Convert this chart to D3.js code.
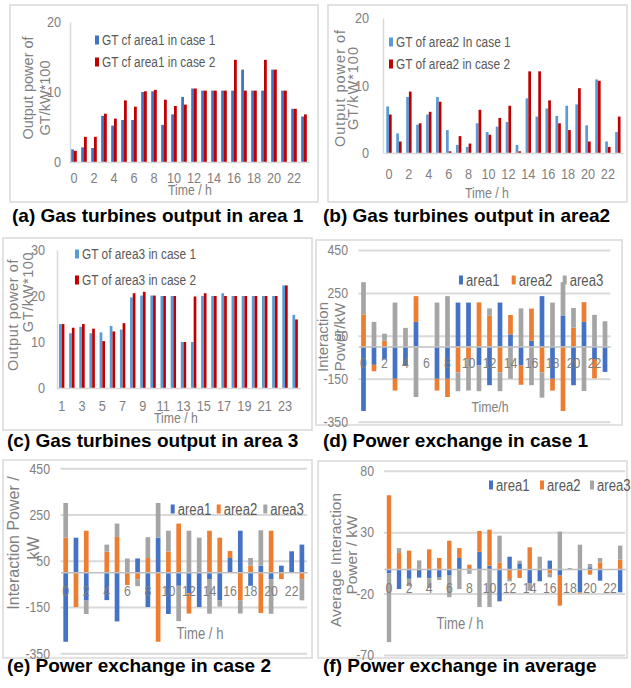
<!DOCTYPE html>
<html>
<head>
<meta charset="utf-8">
<script src="https://cdn.jsdelivr.net/npm/d3@7"></script>
<style>
body { margin: 0; background: #fff; }
svg { display: block; }
</style>
</head>
<body>
<div id="chart"></div>
<script>
// ---- data ----
var hours = [0, 1, 2, 3, 4, 5, 6, 7, 8, 9, 10, 11, 12, 13, 14, 15, 16, 17, 18, 19, 20, 21, 22, 23];
var hours1 = [1, 2, 3, 4, 5, 6, 7, 8, 9, 10, 11, 12, 13, 14, 15, 16, 17, 18, 19, 20, 21, 22, 23, 24];
var evenTicks = [0, 2, 4, 6, 8, 10, 12, 14, 16, 18, 20, 22];
var oddTicks = [1, 3, 5, 7, 9, 11, 13, 15, 17, 19, 21, 23];

// gas turbine output, kW*100
var gtArea1Case1 = [1.8, 2.1, 2.0, 6.6, 5.2, 6.0, 6.0, 10.0, 10.1, 5.3, 6.8, 9.3, 10.5, 10.2, 10.2, 10.2, 10.2, 13.2, 10.2, 10.2, 13.2, 10.2, 7.6, 6.5];
var gtArea1Case2 = [1.6, 3.6, 3.6, 6.9, 6.2, 8.8, 7.9, 10.1, 10.3, 8.9, 8.0, 8.2, 10.5, 10.2, 10.2, 10.2, 14.6, 10.2, 10.2, 14.6, 13.2, 10.2, 7.6, 6.8];
var gtArea2Case1 = [6.9, 2.9, 8.3, 4.2, 5.7, 8.3, 3.4, 1.2, 0.9, 4.4, 3.1, 3.9, 4.6, 1.2, 8.1, 5.4, 6.6, 5.5, 7.0, 7.2, 4.1, 10.9, 1.7, 3.1];
var gtArea2Case2 = [5.7, 1.7, 9.1, 4.4, 6.1, 7.6, 0.25, 2.5, 1.4, 6.4, 2.7, 5.2, 7.0, 0.25, 12.1, 12.1, 7.8, 4.4, 3.4, 9.6, 1.7, 10.7, 0.9, 5.4];
var gtArea3Case1 = [13.9, 11.9, 13.3, 11.9, 12.1, 13.5, 12.7, 19.7, 20.1, 20.1, 20, 20, 10, 10, 20, 20, 20.6, 20, 20, 20, 20, 20, 22.3, 15.9];
var gtArea3Case2 = [13.9, 13.1, 13.9, 12.9, 10.2, 12.3, 14.1, 20.6, 20.9, 20.1, 20, 20, 10, 19.9, 20.6, 20, 20, 20, 20, 20, 20, 20, 22.3, 14.9];

// power exchange, kW
var case1Area1 = [-300, -85, -60, -150, -87, 115, 0, -150, -150, 205, 205, -88, -180, 205, 57, -88, 27, 235, -150, 145, -180, 115, -58, -118];
var case1Area2 = [150, -30, 27, -55, 0, 120, 0, -55, -85, -120, -58, 206, 145, -120, 90, -90, 150, -120, -55, -300, 88, 92, -90, 0];
var case1Area3 = [150, 115, 33, 205, 87, -235, 0, 205, 235, -88, -147, -120, 33, -88, -150, 178, -180, -118, 205, 155, 92, -207, 148, 118];

var case2Area1 = [-300, 150, -122, 0, -120, -212, 0, 60, -150, 150, -180, -58, -90, -150, -29, -120, 62, 180, -58, 29, -29, 29, 91, 120];
var case2Area2 = [150, -150, 180, 0, 90, 153, -55, -30, 62, -300, 90, 211, -88, 0, 180, 150, 30, -120, 29, -176, 180, -29, 0, -29];
var case2Area3 = [150, 0, -58, 0, 30, 58, 60, -30, 90, 150, 90, -153, 180, 150, -150, -28, 0, -58, 33, 153, -150, 0, 0, -92];

var avgArea1 = [-3.5, -16.3, -8, -7, -7.5, -7, -5.4, 9, 0, 14, 2.7, -26.3, 10, 4.6, -11.4, -10, 6.8, -5.4, -0.4, -19, 1.4, -9.5, 0, -19];
var avgArea2 = [60, 13, 15, 0, 16, 9, 23, 8, 3.5, 17, 29.3, 5.4, -8.1, -7.3, 17.6, 0, -3.5, -24.4, -0.4, -0.8, -4.6, 5.4, 0, 7.6];
var avgArea3 = [-56, 4, -6, 7, -8, -2, -17.6, -16.3, -4, -31, -31, 21.7, -1.9, 2.2, -6.2, 10, -3.3, 30.4, 0.8, 19.8, 2.7, 3.5, 0, 11.4];

var areaKeys = ["area1", "area2", "area3"];

// ---- drawing ----
var SANS = '"Liberation Sans",Arial,sans-serif';
var SQUEEZE = 0.82;   // narrow look of the original labels
var GRID = "#d9d9d9";
var TXT = "#7f7f7f";

var svg = d3.select("#chart").append("svg")
    .attr("width", 631)
    .attr("height", 688);

svg.append("rect").attr("width", 631).attr("height", 688).attr("fill", "#fff");

// squeeze text horizontally around its own anchor
function narrow(sel) {
    sel.each(function() {
        var t = d3.select(this);
        var x = +t.attr("x") || 0;
        t.attr("x", x / SQUEEZE).attr("transform", "scale(" + SQUEEZE + ",1)");
    });
}

function frame(x, y, w, h) {
    svg.append("rect")
        .attr("x", x).attr("y", y).attr("width", w).attr("height", h)
        .attr("fill", "none")
        .attr("stroke", GRID)
        .attr("stroke-width", 1.5);
}

function caption(txt, x, y) {
    svg.append("text")
        .attr("x", x).attr("y", y)
        .attr("font-family", SANS)
        .attr("font-weight", "bold")
        .attr("font-size", 19)
        .attr("fill", "#000")
        .text(txt);
}

function yTitle(lines) {
    lines.forEach(function(l) {
        svg.append("text")
            .attr("transform", "translate(" + l.x + "," + l.y + ") rotate(-90)")
            .attr("text-anchor", "middle")
            .attr("dy", "0.35em")
            .attr("font-family", SANS)
            .attr("font-size", l.size)
            .attr("letter-spacing", l.ls || 0)
            .attr("fill", TXT)
            .text(l.t);
    });
}

function xTitle(txt, x, y, size) {
    svg.append("text")
        .attr("x", x).attr("y", y)
        .attr("text-anchor", "middle")
        .attr("dy", "0.35em")
        .attr("font-family", SANS)
        .attr("font-size", size)
        .attr("fill", TXT)
        .text(txt)
        .call(narrow);
}

function legend(items, size) {
    items.forEach(function(it) {
        svg.append("rect")
            .attr("x", it.x).attr("y", it.y - 4.5)
            .attr("width", 4).attr("height", 9)
            .attr("fill", it.color);
        svg.append("text")
            .attr("x", it.x + 7).attr("y", it.y)
            .attr("dy", "0.35em")
            .attr("font-family", SANS)
            .attr("font-size", size)
            .attr("fill", "#595959")
            .text(it.t)
            .call(narrow);
    });
}

function styleAxis(a, size) {
    a.attr("font-family", SANS).attr("font-size", size);
    a.selectAll("text").attr("fill", TXT).call(narrow);
    a.selectAll(".domain").attr("stroke", GRID).attr("stroke-width", 1.5);
    a.selectAll(".tick line").attr("stroke", GRID).attr("stroke-width", 1.5);
}

function grouped(p) {
    var g = svg.append("g");
    var x = d3.scaleBand()
        .domain(p.cats)
        .range([p.x0 - p.step / 2, p.x0 - p.step / 2 + p.cats.length * p.step]);
    var sub = d3.scaleBand().domain([0, 1]).range([-p.barW, p.barW]);
    var y = d3.scaleLinear().domain([0, p.yMax]).range([p.y0, p.yTop]);

    var ya = g.append("g")
        .attr("transform", "translate(" + p.axisX + ",0)")
        .call(d3.axisLeft(y).tickValues(p.yTicks).tickSize(0).tickSizeOuter(0)
            .tickPadding(p.axisX - p.labelRight).tickFormat(d => String(d)));
    styleAxis(ya, p.fs);

    p.series.forEach(function(s, k) {
        g.append("g").selectAll("rect")
            .data(s)
            .join("rect")
            .attr("x", (d, i) => x(p.cats[i]) + x.bandwidth() / 2 + sub(k))
            .attr("y", d => y(d))
            .attr("width", sub.bandwidth())
            .attr("height", d => y(0) - y(d))
            .attr("fill", p.colors[k]);
    });

    var xa = g.append("g")
        .attr("transform", "translate(0," + p.y0 + ")")
        .call(d3.axisBottom(x).tickValues(p.xTicks).tickSize(0).tickSizeOuter(0).tickPadding(p.xPad));
    styleAxis(xa, p.fs);
}

function stacked(p) {
    var g = svg.append("g");
    var rows = p.cats.map(function(c, i) {
        return { cat: c, area1: p.s[0][i], area2: p.s[1][i], area3: p.s[2][i] };
    });
    var series = d3.stack().keys(areaKeys).offset(d3.stackOffsetDiverging)(rows);
    var color = d3.scaleOrdinal().domain(areaKeys).range(["#4472C4", "#ED7D31", "#A5A5A5"]);

    var x = d3.scaleBand()
        .domain(p.cats)
        .range([p.x0 - p.step / 2, p.x0 - p.step / 2 + p.cats.length * p.step]);
    var y = d3.scaleLinear().domain(p.yDomain).range(p.yRange);
    var x1 = x.range()[0], x2 = x.range()[1];

    var ya = g.append("g")
        .attr("transform", "translate(" + x1 + ",0)")
        .call(d3.axisLeft(y).tickValues(p.yTicks).tickSize(-(x2 - x1)).tickSizeOuter(0)
            .tickPadding(x1 - p.labelRight).tickFormat(d => String(d)));
    ya.select(".domain").remove();
    styleAxis(ya, p.fs);
    ya.selectAll(".tick line").attr("stroke-width", 2);

    g.append("g").selectAll("g")
        .data(series)
        .join("g")
        .attr("fill", d => color(d.key))
        .selectAll("rect")
        .data(d => d)
        .join("rect")
        .attr("x", d => x(d.data.cat) + x.bandwidth() / 2 - p.barW / 2)
        .attr("y", d => y(Math.max(d[0], d[1])))
        .attr("width", p.barW)
        .attr("height", d => Math.abs(y(d[0]) - y(d[1])));

    var xa = g.append("g")
        .attr("transform", "translate(0," + y(0) + ")")
        .call(d3.axisBottom(x).tickValues(p.xTicks).tickSize(0).tickSizeOuter(0).tickPadding(p.xPad));
    styleAxis(xa, p.fs);
    xa.select(".domain").attr("stroke", "#bfbfbf");

    legend(areaKeys.map(function(k, i) {
        return { t: k, color: color(k), x: p.legX[i], y: p.legY };
    }), p.legFs);
}

// frames
frame(10, 5, 308, 197);
frame(328, 5, 299, 197);
frame(3, 238, 309, 192);
frame(316, 240, 306, 185);
frame(3, 460, 309, 198);
frame(318, 461, 309, 197);

// (a)
grouped({
    cats: hours, xTicks: evenTicks, series: [gtArea1Case1, gtArea1Case2],
    colors: ["#4472C4", "#C00000"], x0: 74, step: 10, barW: 2.8,
    y0: 162, yTop: 22, yMax: 20, yTicks: [0, 10, 20],
    axisX: 70, labelRight: 61, xPad: 10.5, fs: 15.5
});
legend([
    { t: "GT cf area1 in case 1", color: "#4472C4", x: 95, y: 40 },
    { t: "GT cf area1 in case 2", color: "#C00000", x: 95, y: 62 }
], 14.5);
yTitle([
    { t: "Output power of", x: 27.5, y: 88, size: 14.5 },
    { t: "GT/kW*100", x: 45, y: 98, size: 14.5 }
]);
xTitle("Time / h", 190, 190, 15);

// (b)
grouped({
    cats: hours, xTicks: evenTicks, series: [gtArea2Case1, gtArea2Case2],
    colors: ["#5B9BD5", "#C00000"], x0: 389, step: 9.95, barW: 2.7,
    y0: 153, yTop: 18, yMax: 20, yTicks: [0, 10, 20],
    axisX: 383, labelRight: 369, xPad: 15, fs: 15.5
});
legend([
    { t: "GT of area2 In case 1", color: "#5B9BD5", x: 389, y: 42 },
    { t: "GT of area2 in case 2", color: "#C00000", x: 389, y: 64 }
], 14.5);
yTitle([
    { t: "Output power of", x: 340, y: 88, size: 14.5, ls: 1 },
    { t: "GT/kW*100", x: 353, y: 88, size: 14.5, ls: 1 }
]);
xTitle("Time / h", 487, 193, 15);

// (c)
grouped({
    cats: hours1, xTicks: oddTicks, series: [gtArea3Case1, gtArea3Case2],
    colors: ["#5B9BD5", "#C00000"], x0: 61.7, step: 10.15, barW: 2.7,
    y0: 388, yTop: 250, yMax: 30, yTicks: [0, 10, 20, 30],
    axisX: 57, labelRight: 45, xPad: 11.5, fs: 15.5
});
legend([
    { t: "GT of area3 in case 1", color: "#5B9BD5", x: 75, y: 254 },
    { t: "GT of area3 in case 2", color: "#C00000", x: 75, y: 280 }
], 14.5);
yTitle([
    { t: "Output power of", x: 13, y: 315, size: 14.5, ls: 0.6 },
    { t: "GT/kW*100", x: 28, y: 292, size: 14.5, ls: 0.6 }
]);
xTitle("Time / h", 176, 418, 15);

// (d)
stacked({
    cats: hours, xTicks: evenTicks, s: [case1Area1, case1Area2, case1Area3],
    x0: 363.5, step: 10.5, barW: 4.7,
    yDomain: [-350, 450], yRange: [421.7, 250], yTicks: [-350, -150, 50, 250, 450],
    labelRight: 348, xPad: 11, fs: 15, legFs: 16,
    legX: [459, 511.7, 562.7], legY: 280
});
yTitle([
    { t: "Interaction", x: 323, y: 337, size: 15 },
    { t: "Power/kW", x: 340, y: 337, size: 15 }
]);
xTitle("Time/h", 490, 407, 15);

// (e)
stacked({
    cats: hours, xTicks: evenTicks, s: [case2Area1, case2Area2, case2Area3],
    x0: 65.7, step: 10.27, barW: 4.7,
    yDomain: [-350, 450], yRange: [653.3, 468.3], yTicks: [-350, -150, 50, 250, 450],
    labelRight: 50, xPad: 13, fs: 15, legFs: 16,
    legX: [170.7, 216.7, 263.3], legY: 509
});
yTitle([
    { t: "Interaction Power /", x: 13, y: 543, size: 16 },
    { t: "kW", x: 33, y: 548, size: 16 }
]);
xTitle("Time / h", 200, 633, 16);

// (f)
stacked({
    cats: hours, xTicks: evenTicks, s: [avgArea1, avgArea2, avgArea3],
    x0: 389, step: 10.05, barW: 4.4,
    yDomain: [-70, 80], yRange: [655, 470.7], yTicks: [-70, -20, 30, 80],
    labelRight: 374, xPad: 13, fs: 15, legFs: 16,
    legX: [489, 540, 590], legY: 485
});
yTitle([
    { t: "Average Interaction", x: 336, y: 560, size: 15.5 },
    { t: "Power / kW", x: 352, y: 555, size: 15.5 }
]);
xTitle("Time / h", 460, 623, 16);

// captions
caption("(a) Gas turbines output in area 1", 12, 222);
caption("(b) Gas turbines output in area2", 323, 222);
caption("(c) Gas turbines output in area 3", 7, 447);
caption("(d) Power exchange in case 1", 323, 447);
caption("(e) Power exchange in case 2", 7, 672);
caption("(f) Power exchange in average", 323, 672);
</script>
</body>
</html>
